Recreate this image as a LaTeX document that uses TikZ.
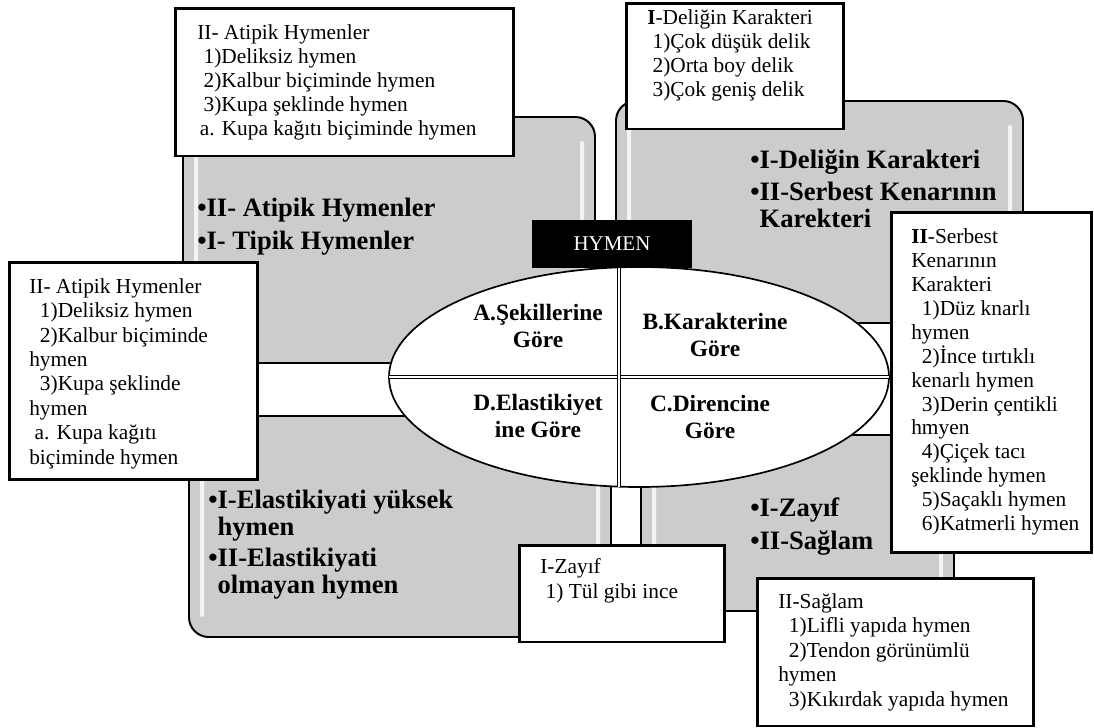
\documentclass[tikz,border=0pt]{standalone}
\usepackage{fontspec}
\setmainfont{Liberation Serif}
\begin{document}
\begin{tikzpicture}[x=0.025cm, y=-0.025cm,
	panel/.style={draw=black, line width=1.4pt, fill=gray!40, rounded corners=14pt},
	gloss/.style={fill=white, opacity=0.8, rounded corners=1.5pt},
	quad/.style={draw=black, line width=1.2pt, fill=white},
	divider/.style={draw=black, line width=0.8pt, double=white, double distance=1.2pt},
	callout/.style={draw=black, line width=2pt, fill=white, inner sep=0pt, anchor=north west},
	note/.style={inner sep=0pt, anchor=north west, align=left, font=\fontsize{15.2}{17}\selectfont},
	point/.style={inner sep=0pt, anchor=north west, align=left, font=\fontsize{18.9}{19.1}\selectfont\bfseries},
	sector/.style={inner sep=0pt, anchor=north, align=center, font=\fontsize{16.65}{18.9}\selectfont\bfseries},
	title/.style={fill=black, text=white, inner sep=0pt, minimum width=113.4pt, minimum height=34pt, font=\fontsize{14.9}{17}\selectfont}]
	
		\useasboundingbox (0,0) rectangle (1094,728);
		
		\foreach \xa/\ya/\xb/\yb in {183/117/595/363, 616/101/1023/323, 189/416/611/637, 641/435/954/611} {
			\draw[panel] (\xa,\ya) rectangle (\xb,\yb);
			\fill[gloss] (\xa+11,\ya+24) rectangle (\xa+15,\yb-20);
			\fill[gloss] (\xb-15,\ya+24) rectangle (\xb-11,\yb-20);
		}
		
		\node[point] (typA) at (197,198) {•II- Atipik Hymenler\\[4.2pt]•I- Tipik Hymenler};
		\node[point] (typB) at (750,149) {•I-Deliğin Karakteri\\[4.2pt]•II-Serbest Kenarının\\\phantom{•}Karekteri};
		\node[point] (typD) at (208,490) {•I-Elastikiyati yüksek\\\phantom{•}hymen\\[3pt]•II-Elastikiyati\\\phantom{•}olmayan hymen};
		\node[point] (typC) at (750,498) {•I-Zayıf\\[4.2pt]•II-Sağlam};
		
		\draw[quad] (639,377) ellipse [x radius=250, y radius=110];
		\draw[divider] (389,377) -- (889,377);
		\draw[divider] (619,267.4) -- (619,486.6);
		
		\node[sector] (secA) at (538,304) {A.Şekillerine\\Göre};
		\node[sector] (secB) at (715,313) {B.Karakterine\\Göre};
		\node[sector] (secC) at (710,395) {C.Direncine\\Göre};
		\node[sector] (secD) at (538,394) {D.Elastikiyet\\ine Göre};
		
		\node[title] (hymen) at (612,244) {HYMEN};
		
		\node[callout, minimum width=240.2pt, minimum height=104.9pt] (boxA) at (174,7) {};
		\node[note] (listA) at (197,24.3) {II- Atipik Hymenler\\\hspace*{.3em}1)Deliksiz hymen\\\hspace*{.3em}2)Kalbur biçiminde hymen\\\hspace*{.3em}3)Kupa şeklinde hymen\\\hspace*{.12em}a. Kupa kağıtı biçiminde hymen};
		
		\node[callout, minimum width=154.5pt, minimum height=89.3pt] (boxB) at (625,2) {};
		\node[note] (listB) at (647,9.3) {\textbf{I}-Deliğin Karakteri\\\hspace*{.25em}1)Çok düşük delik\\\hspace*{.25em}2)Orta boy delik\\\hspace*{.25em}3)Çok geniş delik};
		
		\node[callout, minimum width=176.5pt, minimum height=154.5pt] (boxA2) at (8,261) {};
		\node[note, font=\fontsize{15.2}{17.4}\selectfont] (listA2) at (29,278) {II- Atipik Hymenler\\\hspace*{.5em}1)Deliksiz hymen\\\hspace*{.5em}2)Kalbur biçiminde\\hymen\\\hspace*{.5em}3)Kupa şeklinde\\hymen\\\hspace*{.25em}a. Kupa kağıtı\\biçiminde hymen};
		
		\node[callout, minimum width=142.4pt, minimum height=241.7pt] (boxB2) at (890,211) {};
		\node[note] (listB2) at (911,228.6) {\textbf{II}-Serbest\\Kenarının\\Karakteri\\\hspace*{.5em}1)Düz knarlı\\hymen\\\hspace*{.5em}2)İnce tırtıklı\\kenarlı hymen\\\hspace*{.5em}3)Derin çentikli\\hmyen\\\hspace*{.5em}4)Çiçek tacı\\şeklinde hymen\\\hspace*{.5em}5)Saçaklı hymen\\\hspace*{.5em}6)Katmerli hymen};
		
		\node[callout, minimum width=146pt, minimum height=68.7pt] (boxC) at (518,544) {};
		\node[note, font=\fontsize{15.2}{18}\selectfont] (listC) at (540,558.3) {I-Zayıf\\\hspace*{.25em}1) Tül gibi ince};
		
		\node[callout, minimum width=196.3pt, minimum height=104.9pt] (boxC2) at (756,577) {};
		\node[note, font=\fontsize{15.2}{17.4}\selectfont] (listC2) at (778,593.3) {II-Sağlam\\\hspace*{.5em}1)Lifli yapıda hymen\\\hspace*{.5em}2)Tendon görünümlü\\hymen\\\hspace*{.5em}3)Kıkırdak yapıda hymen};
		
	\end{tikzpicture}
\end{document}
